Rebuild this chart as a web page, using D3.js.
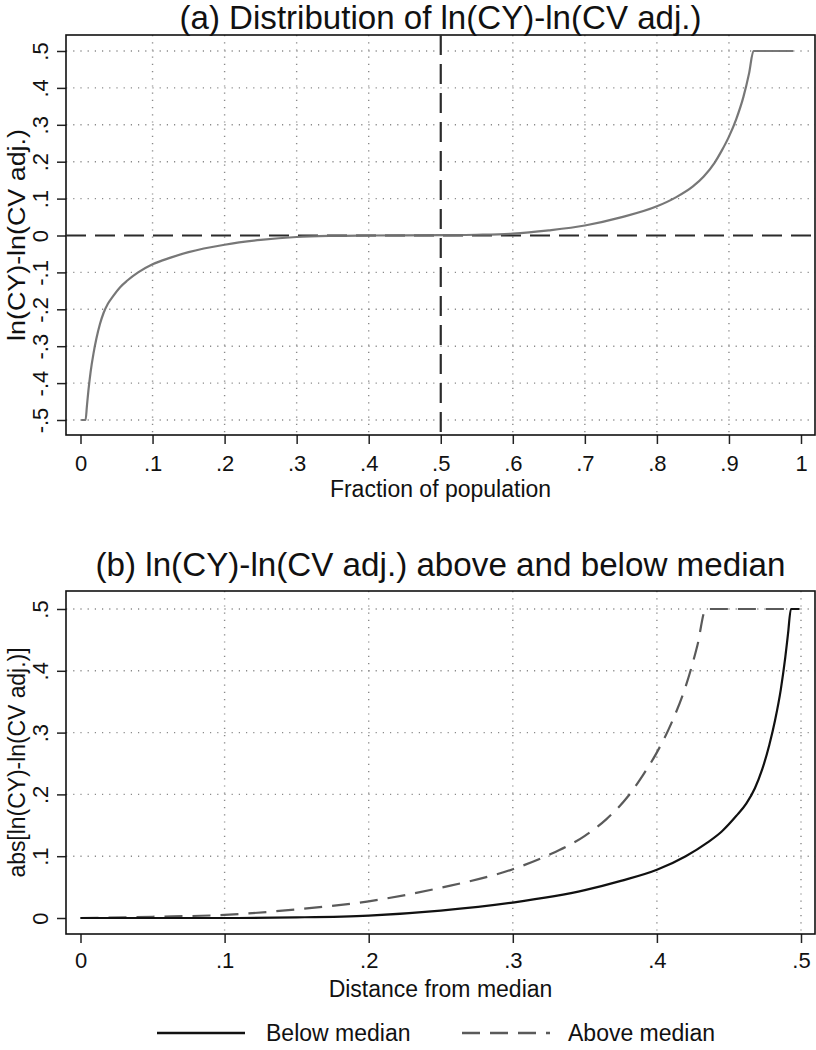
<!DOCTYPE html>
<html><head><meta charset="utf-8">
<script src="https://cdn.jsdelivr.net/npm/d3@7"></script>
<style>
body{margin:0;background:#fff}
text{font-family:"Liberation Sans",Arial,sans-serif;fill:#111}
</style>
</head><body>
<svg id="c" width="816" height="1050"></svg>
<script>
// ---- Panel (a): quantile curve ----
const fracPop = [0.001,0.007,0.009,0.011,0.014,0.018,0.022,0.027,0.032,0.038,0.045,0.055,0.065,0.08,0.1,0.125,0.15,0.2,0.25,0.3,0.35,0.4,0.5,0.55,0.6,0.65,0.7,0.75,0.8,0.825,0.85,0.865,0.88,0.89,0.9,0.91,0.92,0.928,0.934,0.989];
const diffA   = [-0.5,-0.5,-0.46,-0.42,-0.37,-0.32,-0.28,-0.24,-0.21,-0.185,-0.165,-0.14,-0.122,-0.1,-0.078,-0.06,-0.045,-0.025,-0.012,-0.004,-0.001,0,0.001,0.002,0.005,0.014,0.027,0.049,0.079,0.102,0.133,0.16,0.197,0.23,0.268,0.315,0.375,0.44,0.5,0.5];
const xTicksA = [0,0.1,0.2,0.3,0.4,0.5,0.6,0.7,0.8,0.9,1];
const xLabelsA = ["0",".1",".2",".3",".4",".5",".6",".7",".8",".9","1"];
const yTicksA = [-0.5,-0.4,-0.3,-0.2,-0.1,0,0.1,0.2,0.3,0.4,0.5];
const yLabelsA = ["-.5","-.4","-.3","-.2","-.1","0",".1",".2",".3",".4",".5"];

// ---- Panel (b): above / below median ----
const distBelow = [0,0.1,0.15,0.2,0.25,0.3,0.35,0.375,0.4,0.42,0.435,0.445,0.455,0.462,0.468,0.473,0.478,0.482,0.486,0.489,0.491,0.493,0.499];
const absBelow  = [0,0,0.001,0.004,0.012,0.025,0.045,0.06,0.078,0.1,0.122,0.14,0.165,0.185,0.21,0.24,0.28,0.32,0.37,0.42,0.46,0.5,0.5];
const distAbove = [0,0.05,0.1,0.15,0.2,0.25,0.3,0.325,0.35,0.365,0.38,0.39,0.4,0.41,0.42,0.428,0.434,0.49];
const absAbove  = [0,0.002,0.005,0.014,0.027,0.049,0.079,0.102,0.133,0.16,0.197,0.23,0.268,0.315,0.375,0.44,0.5,0.5];
const xTicksB = [0,0.1,0.2,0.3,0.4,0.5];
const xLabelsB = ["0",".1",".2",".3",".4",".5"];
const yTicksB = [0,0.1,0.2,0.3,0.4,0.5];
const yLabelsB = ["0",".1",".2",".3",".4",".5"];

const seriesNames = ["Below median","Above median"];

const svg = d3.select("#c");
const FONT_TICK = 22, FONT_AXT = 23, FONT_TITLE = 33;

function panel(opt){
  const g = svg.append("g");
  const x = d3.scaleLinear().domain(opt.xd).range([80.5, 801]);
  const y = d3.scaleLinear().domain(opt.yd).range(opt.yr);
  // grid
  g.selectAll(".hg").data(opt.yGrid).join("line")
    .attr("x1", opt.f.l).attr("x2", opt.f.r)
    .attr("y1", d=>y(d)).attr("y2", d=>y(d))
    .attr("stroke","#8a8a8a").attr("stroke-width",1.4).attr("stroke-dasharray","1.2,6");
  g.selectAll(".vg").data(opt.xGrid).join("line")
    .attr("y1", opt.f.t).attr("y2", opt.f.b)
    .attr("x1", d=>x(d)).attr("x2", d=>x(d))
    .attr("stroke","#8a8a8a").attr("stroke-width",1.4).attr("stroke-dasharray","1.2,6");
  // axes
  const xa = d3.axisBottom(x).tickValues(opt.xt).tickFormat((d,i)=>opt.xl[i]).tickSize(9).tickPadding(opt.xpad);
  const gx = g.append("g").attr("transform",`translate(0,${opt.f.b})`).call(xa);
  gx.select(".domain").remove();
  gx.selectAll("line").attr("stroke","#222").attr("stroke-width",1.5);
  gx.selectAll("text").attr("font-size",FONT_TICK).attr("fill","#111").attr("font-family","Liberation Sans, Arial, sans-serif");
  const ya = d3.axisLeft(y).tickValues(opt.yt).tickFormat((d,i)=>opt.yl[i]).tickSize(9);
  const gy = g.append("g").attr("transform",`translate(${opt.f.l},0)`).call(ya);
  gy.select(".domain").remove();
  gy.selectAll("line").attr("stroke","#222").attr("stroke-width",1.5);
  gy.selectAll("text").attr("font-size",FONT_TICK).attr("fill","#111")
    .attr("font-family","Liberation Sans, Arial, sans-serif")
    .attr("x",null).attr("dy",null)
    .attr("text-anchor","middle")
    .attr("transform","translate(-18,0) rotate(-90)");
  // frame
  g.append("rect").attr("x",opt.f.l).attr("y",opt.f.t)
    .attr("width",opt.f.r-opt.f.l).attr("height",opt.f.b-opt.f.t)
    .attr("fill","none").attr("stroke","#111").attr("stroke-width",1.6);
  // titles
  g.append("text").attr("x",(opt.f.l+opt.f.r)/2).attr("y",opt.titleY)
    .attr("text-anchor","middle").attr("font-size",FONT_TITLE)
    .attr("textLength",opt.titleLen).attr("lengthAdjust","spacingAndGlyphs").text(opt.title);
  g.append("text").attr("x",(opt.f.l+opt.f.r)/2).attr("y",opt.xtY)
    .attr("text-anchor","middle").attr("font-size",FONT_AXT).text(opt.xtitle);
  g.append("text").attr("transform",`translate(25,${(opt.f.t+opt.f.b)/2}) rotate(-90)`)
    .attr("text-anchor","middle").attr("font-size",FONT_AXT)
    .attr("textLength",opt.ytLen).attr("lengthAdjust","spacingAndGlyphs").text(opt.ytitle);
  return {g,x,y};
}

// Panel (a)
const A = panel({
  f:{l:66,r:815,t:35,b:435}, xd:[0,1], yd:[-0.5,0.5], yr:[420,51], xpad:11,
  xt:xTicksA, xl:xLabelsA, yt:yTicksA, yl:yLabelsA,
  xGrid:xTicksA.filter(d=>d>0 && d<1 && d!==0.5), yGrid:yTicksA.filter(d=>d!==0),
  title:"(a) Distribution of ln(CY)-ln(CV adj.)", titleY:29, titleLen:522,
  xtitle:"Fraction of population", xtY:497, ytitle:"ln(CY)-ln(CV adj.)", ytLen:212
});
// reference lines
A.g.append("line").attr("x1",66).attr("x2",815).attr("y1",A.y(0)).attr("y2",A.y(0))
  .attr("stroke","#2b2b2b").attr("stroke-width",2.2).attr("stroke-dasharray","20,9");
A.g.append("line").attr("x1",A.x(0.5)).attr("x2",A.x(0.5)).attr("y1",35).attr("y2",435)
  .attr("stroke","#2b2b2b").attr("stroke-width",2.2).attr("stroke-dasharray","20,9");
const lineA = d3.line().x((d,i)=>A.x(fracPop[i])).y(d=>A.y(d)).curve(d3.curveMonotoneX);
A.g.append("path").attr("d",lineA(diffA)).attr("fill","none")
  .attr("stroke","#707070").attr("stroke-width",2.2).attr("stroke-opacity",0.95);

// Panel (b)
const B = panel({
  f:{l:66,r:815,t:591,b:934}, xd:[0,0.5], yd:[0,0.5], yr:[918,609], xpad:9,
  xt:xTicksB, xl:xLabelsB, yt:yTicksB, yl:yLabelsB,
  xGrid:xTicksB.filter(d=>d>0), yGrid:yTicksB.filter(d=>d>0),
  title:"(b) ln(CY)-ln(CV adj.) above and below median", titleY:576, titleLen:690,
  xtitle:"Distance from median", xtY:997, ytitle:"abs[ln(CY)-ln(CV adj.)]", ytLen:230
});
const lineAbove = d3.line().x((d,i)=>B.x(distAbove[i])).y(d=>B.y(d)).curve(d3.curveMonotoneX);
const lineBelow = d3.line().x((d,i)=>B.x(distBelow[i])).y(d=>B.y(d)).curve(d3.curveMonotoneX);
B.g.append("path").attr("d",lineAbove(absAbove)).attr("fill","none")
  .attr("stroke","#5a5a5a").attr("stroke-width",2.2).attr("stroke-dasharray","18,10");
B.g.append("path").attr("d",lineBelow(absBelow)).attr("fill","none")
  .attr("stroke","#111").attr("stroke-width",2.2);

// Legend
const leg = svg.append("g");
const legItems = [
  {name:seriesNames[0], x1:157, x2:245, tx:266, color:"#111", dash:null},
  {name:seriesNames[1], x1:462, x2:550, tx:568, color:"#5a5a5a", dash:"18,10"}
];
legItems.forEach(it=>{
  leg.append("line").attr("x1",it.x1).attr("x2",it.x2).attr("y1",1033).attr("y2",1033)
    .attr("stroke",it.color).attr("stroke-width",2.4).attr("stroke-dasharray",it.dash);
  leg.append("text").attr("x",it.tx).attr("y",1041).attr("font-size",FONT_AXT).text(it.name);
});
</script>
</body></html>
